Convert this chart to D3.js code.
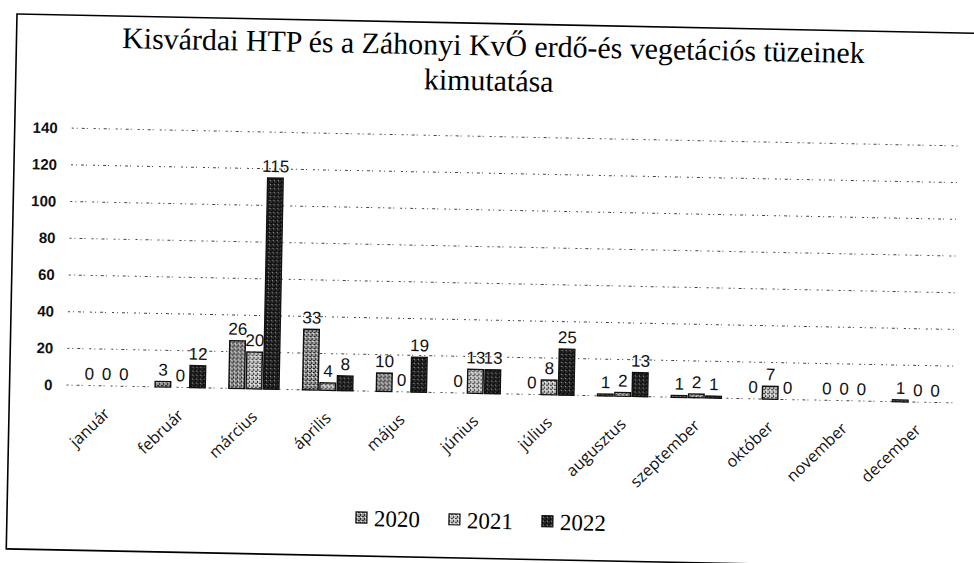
<!DOCTYPE html>
<html>
<head>
<meta charset="utf-8">
<script src="https://cdn.jsdelivr.net/npm/d3@7"></script>
<style>
  html, body { margin: 0; padding: 0; background: #ffffff; }
  svg { display: block; }
  .serif { font-family: 'Liberation Serif', 'Times New Roman', serif; }
</style>
</head>
<body>
<div id="chart"></div>
<script>

// data
var months = [ 'január', 'február', 'március', 'április', 'május', 'június',
               'július', 'augusztus', 'szeptember', 'október', 'november', 'december' ];
var years = [ '2020', '2021', '2022' ];
var values2020 = [ 0, 3, 26, 33, 10, 0, 0, 1, 1, 0, 0, 1 ];
var values2021 = [ 0, 0, 20, 4, 0, 13, 8, 2, 2, 7, 0, 0 ];
var values2022 = [ 0, 12, 115, 8, 19, 13, 25, 13, 1, 0, 0, 0 ];
var yTicks = [ 0, 20, 40, 60, 80, 100, 120, 140 ];

var series = [ values2020, values2021, values2022 ];

var width = 974,
    height = 563;

var svg = d3.select('#chart').append('svg')
    .attr('width', width)
    .attr('height', height);

/* patterns - imitate the scanned hatch fills */

var defs = svg.append('defs');

function makePattern ( id, bg, dark, light ) {

    var p = defs.append('pattern')
        .attr('id', id)
        .attr('width', 4)
        .attr('height', 4)
        .attr('patternUnits', 'userSpaceOnUse');

    p.append('rect').attr('width', 4).attr('height', 4).attr('fill', bg);
    p.append('rect').attr('x', 0).attr('y', 0).attr('width', 1).attr('height', 2).attr('fill', dark);
    p.append('rect').attr('x', 2).attr('y', 2).attr('width', 2).attr('height', 1).attr('fill', dark);
    p.append('rect').attr('x', 1).attr('y', 3).attr('width', 1).attr('height', 1).attr('fill', light);

}

makePattern( 'p2020', '#9a9a9a', '#222222', '#ffffff' );
makePattern( 'p2021', '#c4c4c4', '#333333', '#ffffff' );
makePattern( 'p2022', '#2a2a2a', '#000000', '#9a9a9a' );

var fills = [ 'url(#p2020)', 'url(#p2021)', 'url(#p2022)' ];

// the scan is tilted a little clockwise
var page = svg.append('g')
    .attr('transform', 'rotate(1.15, 17, 14)');

page.append('rect')
    .attr('x', 17)
    .attr('y', 14)
    .attr('width', 1000)
    .attr('height', 535)
    .attr('fill', 'none')
    .attr('stroke', '#000')
    .attr('stroke-width', 1.6);

/* title */

var title = page.append('text')
    .attr('class', 'serif')
    .attr('text-anchor', 'middle')
    .style('font-size', '28px')
    .style('fill', '#000');

var line1 = title.append('tspan').attr('x', 494).attr('y', 46)
    .text('Kisvárdai HTP és a Záhonyi KvŐ erdő-és vegetációs tüzeinek');
title.append('tspan').attr('x', 490).attr('y', 81)
    .text('kimutatása');

// fit the first line to the width it has in the scan
var w1 = line1.node().getComputedTextLength();
if ( w1 > 0 ) {
    title.style('font-size', ( 28 * 743 / w1 ).toFixed( 1 ) + 'px');
}

/* scales */

var x = d3.scaleBand()
    .domain( months )
    .range([ 77, 962 ])
    .paddingInner( 0.32 )
    .paddingOuter( 0.16 );

var xInner = d3.scaleBand()
    .domain( years )
    .range([ 0, x.bandwidth() ])
    .paddingInner( 0.1 );

var y = d3.scaleLinear()
    .domain([ 0, 140 ])
    .range([ 384, 127 ]);

/* gridlines */

page.append('g')
    .selectAll('line')
    .data( yTicks )
    .enter().append('line')
    .attr('x1', 74)
    .attr('x2', 962)
    .attr('y1', function ( d ) { return y( d ); })
    .attr('y2', function ( d ) { return y( d ); })
    .attr('stroke', '#444')
    .attr('stroke-width', 1)
    .attr('stroke-dasharray', '2,3,1,4,3,2,1,6');

/* y axis labels */

var yAxis = d3.axisLeft( y )
    .tickValues( yTicks )
    .tickSize( 0 )
    .tickPadding( 0 );

var yG = page.append('g')
    .attr('transform', 'translate(60,0)')
    .call( yAxis );

yG.select('.domain').remove();
yG.selectAll('text')
    .style('font-family', '"Liberation Sans", Arial, sans-serif')
    .style('font-size', '15px')
    .style('font-weight', 'bold')
    .style('fill', '#111');

/* bars */

var groups = page.append('g')
    .selectAll('g')
    .data( months )
    .enter().append('g')
    .attr('transform', function ( d ) { return 'translate(' + x( d ) + ',0)'; });

years.forEach( function ( yr, i ) {

    groups.append('rect')
        .attr('x', xInner( yr ))
        .attr('width', xInner.bandwidth())
        .attr('y', function ( d, j ) { return y( series[ i ][ j ] ); })
        .attr('height', function ( d, j ) { return y( 0 ) - y( series[ i ][ j ] ); })
        .attr('fill', fills[ i ])
        .attr('stroke', '#111')
        .attr('stroke-width', function ( d, j ) { return series[ i ][ j ] > 0 ? 1.4 : 0; });

    groups.append('text')
        .attr('x', xInner( yr ) + xInner.bandwidth() / 2)
        .attr('y', function ( d, j ) { return y( series[ i ][ j ] ) - 6; })
        .attr('text-anchor', 'middle')
        .style('font-family', '"Liberation Sans", Arial, sans-serif')
        .style('font-size', '17px')
        .style('fill', '#111')
        .text( function ( d, j ) { return series[ i ][ j ]; });

});

/* month labels */

page.append('g')
    .selectAll('text')
    .data( months )
    .enter().append('text')
    .attr('transform', function ( d ) {
        return 'translate(' + ( x( d ) + x.bandwidth() / 2 - 3 ) + ',405) rotate(-45)';
    })
    .attr('text-anchor', 'end')
    .attr('dy', '0.7em')
    .style('font-family', '"Open Sans", "Liberation Sans", sans-serif')
    .style('font-size', '16px')
    .style('fill', '#111')
    .text( function ( d ) { return d; });

/* legend */

var legendX = [ 366, 459, 552 ];

var legend = page.append('g')
    .selectAll('g')
    .data( years )
    .enter().append('g')
    .attr('transform', function ( d, i ) { return 'translate(' + legendX[ i ] + ',511)'; });

legend.append('rect')
    .attr('x', 0)
    .attr('y', -6)
    .attr('width', 11)
    .attr('height', 11)
    .attr('fill', function ( d, i ) { return fills[ i ]; })
    .attr('stroke', '#111')
    .attr('stroke-width', 1.2);

legend.append('text')
    .attr('class', 'serif')
    .attr('x', 18)
    .attr('y', 0)
    .attr('dy', '0.35em')
    .style('font-size', '23px')
    .style('fill', '#000')
    .text( function ( d ) { return d; });

</script>
</body>
</html>
